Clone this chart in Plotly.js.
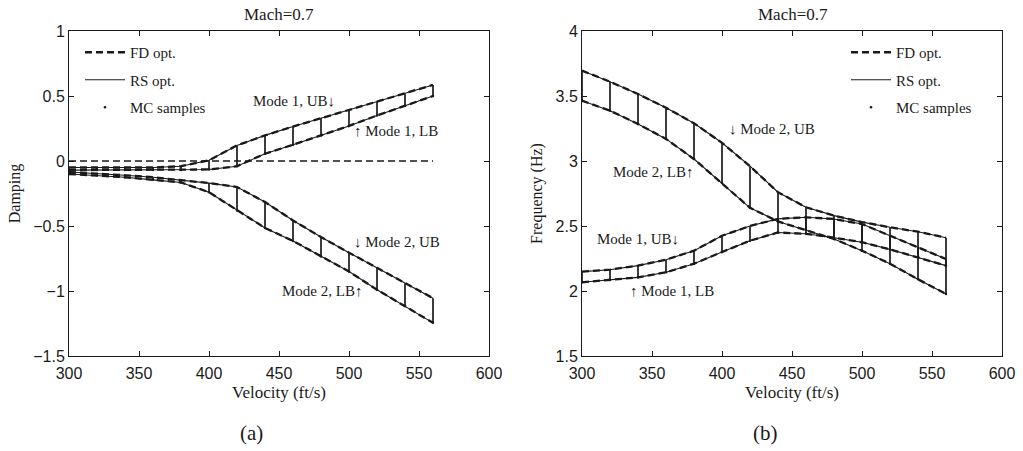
<!DOCTYPE html>
<html>
<head>
<meta charset="utf-8">
<script src="https://cdn.plot.ly/plotly-3.0.1.min.js"></script>
<style>html,body{margin:0;padding:0;background:#fff;}#chart{width:1023px;height:451px;}</style>
</head>
<body>
<div id="chart"></div>
<script>
// ---- data ----
const velocity = [300, 320, 340, 360, 380, 400, 420, 440, 460, 480, 500, 520, 540, 560];

// (a) damping
const dampM1UB = [-0.05, -0.05, -0.05, -0.05, -0.04, 0.005, 0.12, 0.197, 0.265, 0.33, 0.39, 0.455, 0.52, 0.585];
const dampM1LB = [-0.07, -0.07, -0.07, -0.07, -0.07, -0.065, -0.04, 0.056, 0.125, 0.197, 0.27, 0.35, 0.425, 0.5];
const dampM2UB = [-0.085, -0.095, -0.11, -0.125, -0.145, -0.17, -0.2, -0.316, -0.457, -0.585, -0.705, -0.82, -0.94, -1.055];
const dampM2LB = [-0.10, -0.11, -0.125, -0.145, -0.165, -0.24, -0.38, -0.515, -0.615, -0.735, -0.85, -0.99, -1.115, -1.245];
const dampReference = 0;

// (b) frequency (Hz)
const freqM2UB = [3.695, 3.61, 3.515, 3.41, 3.29, 3.14, 2.96, 2.76, 2.644, 2.58, 2.53, 2.49, 2.456, 2.41];
const freqM2LB = [3.464, 3.387, 3.285, 3.17, 3.015, 2.83, 2.64, 2.535, 2.47, 2.40, 2.31, 2.21, 2.09, 1.977];
const freqM1UB = [2.149, 2.164, 2.195, 2.241, 2.31, 2.425, 2.50, 2.555, 2.567, 2.554, 2.515, 2.425, 2.336, 2.246];
const freqM1LB = [2.067, 2.085, 2.105, 2.144, 2.21, 2.30, 2.387, 2.45, 2.44, 2.41, 2.375, 2.32, 2.26, 2.195];

const panelTitle = 'Mach=0.7';
const xTitle = 'Velocity (ft/s)';
const yTitleA = 'Damping';
const yTitleB = 'Frequency (Hz)';
const legendNames = ['FD opt.', 'RS opt.', 'MC samples'];

// ---- styling ----
const INK = '#1a1a1a';
const SERIF = 'Liberation Serif, DejaVu Serif, serif';
const SANS = 'Liberation Sans, Arial, sans-serif';
const DASH = '7px,4px';

function curveTraces(y, xa, ya, legendId, first) {
  return [
    {x: velocity, y: y, xaxis: xa, yaxis: ya, type: 'scatter', mode: 'lines',
     line: {color: INK, width: 2.3, dash: DASH}, name: legendNames[0], legend: legendId,
     legendgroup: legendId + 'fd', legendrank: 1, showlegend: first, hoverinfo: 'skip'},
    {x: velocity, y: y, xaxis: xa, yaxis: ya, type: 'scatter', mode: 'lines',
     line: {color: INK, width: 1.1}, name: legendNames[1], legend: legendId,
     legendgroup: legendId + 'rs', legendrank: 2, showlegend: first, hoverinfo: 'skip'}
  ];
}
function mcTrace(lb, ub, xa, ya, legendId, first) {
  return {x: velocity, y: lb, xaxis: xa, yaxis: ya, type: 'scatter', mode: 'markers',
    marker: {color: INK, size: 2.5}, name: legendNames[2], legend: legendId,
    legendgroup: legendId + 'mc', legendrank: 3, showlegend: first, hoverinfo: 'skip',
    error_y: {type: 'data', symmetric: false, array: ub.map((u, i) => u - lb[i]),
              arrayminus: lb.map(() => 0), width: 0, thickness: 1.7, color: INK}};
}

const traces = [];
// panel (a)
traces.push(...curveTraces(dampM1UB, 'x', 'y', 'legend', true));
traces.push(...curveTraces(dampM1LB, 'x', 'y', 'legend', false));
traces.push(...curveTraces(dampM2UB, 'x', 'y', 'legend', false));
traces.push(...curveTraces(dampM2LB, 'x', 'y', 'legend', false));
traces.push({x: velocity, y: velocity.map(() => dampReference), xaxis: 'x', yaxis: 'y', type: 'scatter',
  mode: 'lines', line: {color: INK, width: 1.4, dash: DASH}, showlegend: false, hoverinfo: 'skip'});
traces.push(mcTrace(dampM1LB, dampM1UB, 'x', 'y', 'legend', true));
traces.push(mcTrace(dampM2LB, dampM2UB, 'x', 'y', 'legend', false));
// panel (b)
traces.push(...curveTraces(freqM2UB, 'x2', 'y2', 'legend2', true));
traces.push(...curveTraces(freqM2LB, 'x2', 'y2', 'legend2', false));
traces.push(...curveTraces(freqM1UB, 'x2', 'y2', 'legend2', false));
traces.push(...curveTraces(freqM1LB, 'x2', 'y2', 'legend2', false));
traces.push(mcTrace(freqM2LB, freqM2UB, 'x2', 'y2', 'legend2', true));
traces.push(mcTrace(freqM1LB, freqM1UB, 'x2', 'y2', 'legend2', false));

const W = 1023, H = 451;
const yDom = [(H - 356) / H, (H - 31) / H];

function xAxis(domain, anchor) {
  return {domain: domain, anchor: anchor, range: [300, 600], dtick: 50, tick0: 300,
    ticks: 'inside', ticklen: 5, tickcolor: INK, mirror: 'ticks', showline: true,
    linecolor: INK, linewidth: 1, showgrid: false, zeroline: false, fixedrange: true,
    ticklabelstandoff: 3,
    tickfont: {family: SANS, size: 16, color: INK},
    title: {text: xTitle, font: {family: SERIF, size: 17, color: INK}, standoff: 4}};
}
function yAxis(domain, anchor, range, title) {
  return {domain: domain, anchor: anchor, range: range, dtick: 0.5,
    ticks: 'inside', ticklen: 5, tickcolor: INK, mirror: 'ticks', showline: true,
    linecolor: INK, linewidth: 1, showgrid: false, zeroline: false, fixedrange: true,
    tickfont: {family: SANS, size: 16, color: INK},
    title: {text: title, font: {family: SERIF, size: 16, color: INK}, standoff: 8}};
}
function legendBox(xpx, ypx) {
  return {x: xpx / W, y: (H - ypx) / H, xanchor: 'left', yanchor: 'top',
    bgcolor: 'rgba(0,0,0,0)', borderwidth: 0, tracegroupgap: 5, itemwidth: 40,
    font: {family: SERIF, size: 15, color: INK}};
}
function paperText(text, xpx, ypx, size) {
  return {text: text, x: xpx / W, y: (H - ypx) / H, xref: 'paper', yref: 'paper',
    xanchor: 'center', yanchor: 'middle', showarrow: false,
    font: {family: SERIF, size: size, color: INK}};
}
function note(text, x, y, xr, yr) {
  return {text: text, x: x, y: y, xref: xr, yref: yr, showarrow: false,
    xanchor: 'center', yanchor: 'middle',
    font: {family: SERIF, size: 15, color: INK}};
}

const layout = {
  width: W, height: H, margin: {l: 0, r: 0, t: 0, b: 0},
  paper_bgcolor: '#fff', plot_bgcolor: '#fff', showlegend: true,
  xaxis: xAxis([69 / W, 489 / W], 'y'),
  yaxis: yAxis(yDom, 'x', [-1.5, 1], yTitleA),
  xaxis2: xAxis([582 / W, 1002 / W], 'y2'),
  yaxis2: yAxis(yDom, 'x2', [1.5, 4], yTitleB),
  legend: legendBox(80, 36),
  legend2: legendBox(846, 36),
  annotations: [
    paperText(panelTitle, 279, 15, 17),
    paperText(panelTitle, 793, 15, 17),
    paperText('(a)', 251, 433, 21),
    paperText('(b)', 765, 433, 21),
    note('Mode 1, UB↓', 461, 0.46, 'x', 'y'),
    note('↑ Mode 1, LB', 533.6, 0.23, 'x', 'y'),
    note('↓ Mode 2, UB', 534, -0.62, 'x', 'y'),
    note('Mode 2, LB↑', 481, -1.0, 'x', 'y'),
    note('↓ Mode 2, UB', 435.7, 3.246, 'x2', 'y2'),
    note('Mode 2, LB↑', 350.7, 2.915, 'x2', 'y2'),
    note('Mode 1, UB↓', 340, 2.40, 'x2', 'y2'),
    note('↑ Mode 1, LB', 364.3, 2.0, 'x2', 'y2')
  ]
};

Plotly.newPlot('chart', traces, layout, {staticPlot: true, displayModeBar: false});
</script>
</body>
</html>
